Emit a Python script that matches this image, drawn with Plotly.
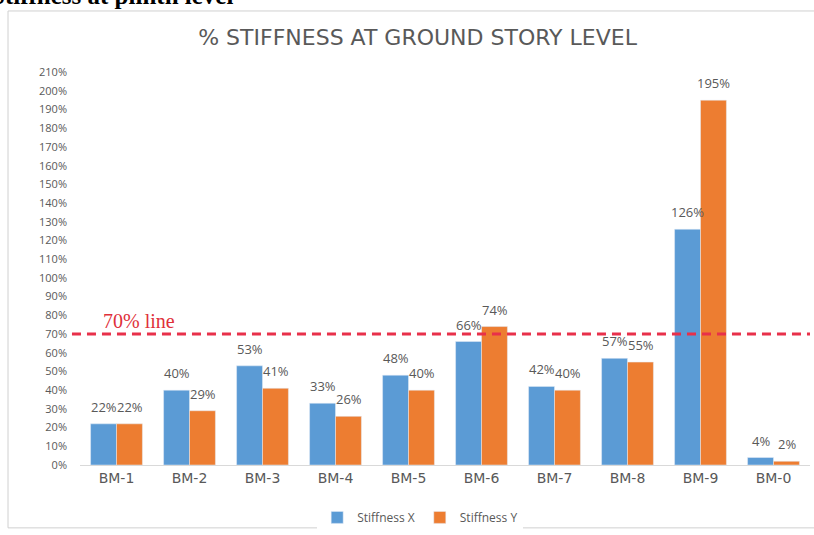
import plotly.graph_objects as go

categories = ["BM-1", "BM-2", "BM-3", "BM-4", "BM-5", "BM-6", "BM-7", "BM-8", "BM-9", "BM-0"]
stiffness_x = [0.22, 0.40, 0.53, 0.33, 0.48, 0.66, 0.42, 0.57, 1.26, 0.04]
stiffness_y = [0.22, 0.29, 0.41, 0.26, 0.40, 0.74, 0.40, 0.55, 1.95, 0.02]
limit_value = 0.70
limit_label = "70% line"
title_text = "% STIFFNESS AT GROUND STORY LEVEL"
caption_text = "Stiffness at plinth level"

BLUE = "#5B9BD5"
ORANGE = "#ED7D31"
GRAY = "#595959"
SANS = "Open Sans, DejaVu Sans, sans-serif"

fig = go.Figure()
fig.add_trace(go.Bar(name="Stiffness X", x=categories, y=stiffness_x, marker_color=BLUE))
fig.add_trace(go.Bar(name="Stiffness Y", x=categories, y=stiffness_y, marker_color=ORANGE))

annotations = []
for cat, vx, vy in zip(categories, stiffness_x, stiffness_y):
    for v, dx in ((vx, -13), (vy, 13)):
        annotations.append(dict(
            x=cat, y=v, xref="x", yref="y", text=f"{round(v*100)}%",
            showarrow=False, xshift=dx, yshift=6, yanchor="bottom",
            font=dict(family=SANS, size=13, color=GRAY),
        ))

annotations.append(dict(
    x=0.2123, y=1.1266, xref="paper", yref="paper", xanchor="right", yanchor="bottom",
    text="<b>" + caption_text + "</b>", showarrow=False,
    font=dict(family="Liberation Serif, Times New Roman, serif", size=25, color="black"),
))
annotations.append(dict(
    x=categories[0], y=limit_value, xref="x", yref="y", xanchor="left", yanchor="bottom",
    text=limit_label, showarrow=False, xshift=-16, yshift=0,
    font=dict(family="Liberation Serif, Times New Roman, serif", size=20, color="#E0303A"),
))

shapes = [
    dict(type="line", xref="paper", yref="y", x0=-0.011, x1=1.0, y0=limit_value, y1=limit_value,
         line=dict(color="#E8304A", width=3, dash="9px,6px")),
    dict(type="rect", xref="paper", yref="paper", x0=-0.0986, x1=1.02, y0=-0.156, y1=1.1266,
         line=dict(color="#D0D0D0", width=1), fillcolor="rgba(0,0,0,0)", layer="below"),
]

fig.update_layout(
    width=814, height=535,
    margin=dict(l=80, r=4, t=62, b=70, autoexpand=False),
    paper_bgcolor="white", plot_bgcolor="white",
    barmode="group", bargap=0.29, bargroupgap=0.0,
    title=dict(text=title_text, x=0.513, xanchor="center", y=0.931, yref="container", yanchor="middle",
               font=dict(family="DejaVu Sans, sans-serif", size=22, color=GRAY)),
    showlegend=True,
    legend=dict(orientation="h", x=0.466, xanchor="center", y=-0.13, yanchor="middle",
                font=dict(family=SANS, size=12, color=GRAY), traceorder="normal"),
    annotations=annotations,
    shapes=shapes,
    font=dict(family=SANS, color=GRAY),
)
fig.update_xaxes(showgrid=False, showline=True, linecolor="#D9D9D9", linewidth=1,
                 ticks="", automargin=False, tickfont=dict(family="DejaVu Sans, sans-serif", size=14, color=GRAY))
fig.update_yaxes(range=[0, 2.154], dtick=0.1, tickformat=".0%", showgrid=False,
                 showline=False, zeroline=False, ticks="", ticklabelstandoff=12, automargin=False,
                 tickfont=dict(size=11, color=GRAY))

fig.write_html("out.html", config={"displayModeBar": False},
               post_script="document.body.style.margin='0';")
